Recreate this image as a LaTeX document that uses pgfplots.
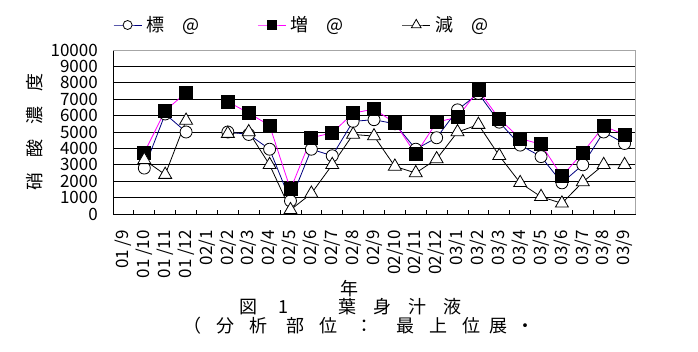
\documentclass[border=0pt]{standalone}
\usepackage{fontspec}
\setmainfont{Noto Sans CJK JP}
\usepackage{pgfplots}
\usepackage{pgfplotstable}
\pgfplotsset{compat=1.18}
\definecolor{xlnavy}{RGB}{0,0,128}
\definecolor{xlmag}{RGB}{255,0,255}
\newcommand{\fs}{\fontsize{17bp}{19bp}\selectfont}
\newcommand{\fc}{\fontsize{18bp}{20bp}\selectfont}
\pgfplotstableread{
x C S T
0 nan nan nan
1 2800 3750 3300
2 6100 6300 2400
3 5000 7400 5700
4 nan nan nan
5 5000 6850 4900
6 4850 6150 5000
7 3950 5400 3000
8 800 1500 250
9 3950 4650 1250
10 3550 4950 3000
11 5650 6150 4850
12 5750 6400 4750
13 5500 5550 2900
14 3950 3650 2500
15 4650 5600 3350
16 6350 5900 5000
17 7350 7550 5450
18 5600 5800 3550
19 4200 4600 1900
20 3500 4250 1050
21 1900 2300 650
22 3000 3750 1950
23 5000 5350 3000
24 4300 4850 3000
}\datatab
\begin{document}
\begin{tikzpicture}
\useasboundingbox (0,0) rectangle (698bp,352bp);
\begin{axis}[
  at={(113bp,138bp)}, anchor=south west,
  width=522bp, height=164bp, scale only axis,
  xmin=-0.5, xmax=24.5, ymin=0, ymax=10000,
  scaled y ticks=false,
  clip=false,
  unbounded coords=jump,
  axis line style={black, line width=0.8bp},
  tick pos=left, tick align=inside,
  xtick={0,...,24},
  xticklabels={01 /9,01 /10,01 /11,01 /12,02/1,02/2,02/3,02/4,02/5,02/6,02/7,02/8,02/9,02/10,02/11,02/12,03/1,03/2,03/3,03/4,03/5,03/6,03/7,03/8,03/9},
  minor xtick={0.5,1.5,...,23.5},
  major tick length=0pt, minor tick length=3.5bp,
  minor tick style={black, line width=0.8bp},
  ytick={0,1000,...,10000},
  yticklabels={0,1000,2000,3000,4000,5000,6000,7000,8000,9000,10000},
  ymajorgrids, major grid style={black, line width=0.8bp},
  tick label style={font=\fs},
  xticklabel style={yshift=-16bp, rotate=90, anchor=east, inner sep=0pt},
  yticklabel style={anchor=east, inner sep=0pt, xshift=-15bp},
  ylabel={硝\hspace{15bp}酸\hspace{15bp}濃\hspace{15bp}度},
  every axis y label/.style={at={(axis description cs:-0.1494,0.5)}, rotate=90, anchor=center, font=\fc},
  legend columns=3,
  legend cell align=left,
  legend style={at={(axis description cs:0,1.1524)}, anchor=west, draw=none, fill=none, inner sep=0pt, font=\fc, nodes={inner sep=0pt},
    /tikz/every odd column/.append style={column sep=4.5bp},
    /tikz/every even column/.append style={column sep=58bp}},
  legend image code/.code={\draw[mark repeat=2, mark phase=2, #1] plot coordinates {(0bp,0bp) (14bp,0bp) (28bp,0bp)};},
  legend image post style={/tikz/every mark/.append style={scale=0.75}},
  after end axis/.code={\draw[gray!70, line width=0.8bp] (rel axis cs:0,1) -- (rel axis cs:1,1) -- (rel axis cs:1,0);},
]
\addplot[xlnavy, line width=0.8bp, mark=*, mark size=6bp, mark options={fill=white, draw=black, line width=0.8bp}] table[x=x, y=C] {\datatab};
\addlegendentry{標　@}
\addplot[xlmag, line width=0.8bp, mark=square*, mark size=6.5bp, mark options={fill=black, draw=black, line width=0.8bp}] table[x=x, y=S] {\datatab};
\addlegendentry{増　@}
\addplot[black, line width=0.8bp, mark=triangle*, mark size=7.5bp, mark options={fill=white, draw=black, line width=0.8bp}] table[x=x, y=T] {\datatab};
\addlegendentry{減　@}
\end{axis}
\node[font=\fc] at (349bp,63bp) {年};
\node[font=\fc, anchor=west, inner sep=0pt] at (239bp,45bp) {図\hspace{21bp}1\hspace{50bp}葉\hspace{17bp}身\hspace{17bp}汁\hspace{17bp}液};
\node[font=\fc, anchor=west, inner sep=0pt] at (183bp,26.5bp) {（\hspace{15bp}分\hspace{15bp}析\hspace{19bp}部\hspace{15bp}位\hspace{18bp}：\hspace{23bp}最\hspace{15bp}上\hspace{15bp}位\hspace{9bp}展\hspace{9bp}・};
\end{tikzpicture}
\end{document}
